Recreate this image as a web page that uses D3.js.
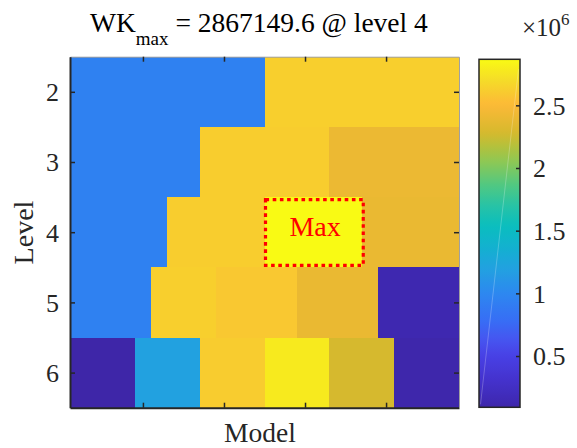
<!DOCTYPE html>
<html>
<head>
<meta charset="utf-8">
<script src="https://cdn.jsdelivr.net/npm/d3@7"></script>
<style>
  html, body { margin: 0; padding: 0; background: #fff; }
  svg { display: block; font-family: "Liberation Serif", "Times New Roman", serif; }
</style>
</head>
<body>
<svg id="chart" width="577" height="448"></svg>
<script>
// Model indices along the x axis and clustering levels along y
const modelIds = [1, 2, 3, 4, 5, 6, 7, 8, 9, 10, 11, 12, 13, 14, 15, 16, 17, 18, 19, 20, 21, 22, 23, 24];
const levels = [2, 3, 4, 5, 6];

// WK value for every model at each level
const wkLevel2 = [950000, 950000, 950000, 950000, 950000, 950000, 950000, 950000, 950000, 950000, 950000, 950000,
                  2630000, 2630000, 2630000, 2630000, 2630000, 2630000, 2630000, 2630000, 2630000, 2630000, 2630000, 2630000];
const wkLevel3 = [950000, 950000, 950000, 950000, 950000, 950000, 950000, 950000,
                  2620000, 2620000, 2620000, 2620000, 2620000, 2620000, 2620000, 2620000,
                  2410000, 2410000, 2410000, 2410000, 2410000, 2410000, 2410000, 2410000];
const wkLevel4 = [950000, 950000, 950000, 950000, 950000, 950000,
                  2620000, 2620000, 2620000, 2620000, 2620000, 2620000,
                  2867149.6, 2867149.6, 2867149.6, 2867149.6, 2867149.6, 2867149.6,
                  2400000, 2400000, 2400000, 2400000, 2400000, 2400000];
const wkLevel5 = [950000, 950000, 950000, 950000, 950000,
                  2630000, 2630000, 2630000, 2630000,
                  2590000, 2590000, 2590000, 2590000, 2590000,
                  2400000, 2400000, 2400000, 2400000, 2400000,
                  120000, 120000, 120000, 120000, 120000];
const wkLevel6 = [91000, 91000, 91000, 91000,
                  1200000, 1200000, 1200000, 1200000,
                  2610000, 2610000, 2610000, 2610000,
                  2780000, 2780000, 2780000, 2780000,
                  2280000, 2280000, 2280000, 2280000,
                  100000, 100000, 100000, 100000];
const wkRows = [wkLevel2, wkLevel3, wkLevel4, wkLevel5, wkLevel6];

// Axis ticks
const modelTicks = [5, 10, 15, 20];
const levelTicks = [2, 3, 4, 5, 6];
const cbTicks = [500000, 1000000, 1500000, 2000000, 2500000];
const cbTickLabels = ["0.5", "1", "1.5", "2", "2.5"];

// Parula-like colour ramp
const rampPos = [0, 0.007, 0.078, 0.15, 0.194, 0.251, 0.326, 0.394, 0.451, 0.522, 0.58, 0.638, 0.704, 0.75, 0.79, 0.87, 0.94, 1];
const rampCol = ["#3e26a8", "#3e28af", "#4432cd", "#4841e6", "#4655f0", "#376ef5", "#2d87f0", "#23a0e1", "#14afd2",
                 "#0abebe", "#28c3a5", "#50c882", "#8cc855", "#b4c13c", "#d7b92d", "#fcb937", "#f5dc28", "#f9fa14"];
const ramp = d3.scaleLinear().domain(rampPos).range(rampCol).interpolate(d3.interpolateRgb).clamp(true);

const svg = d3.select("#chart");
const plot = { left: 70, right: 459, top: 56.7, bottom: 407.7 };
const cb = { left: 479, right: 520, top: 59.3, bottom: 407.3 };
const ink = "#262626";
const serif = "Liberation Serif";

const x = d3.scaleLinear().domain([0.5, modelIds.length + 0.5]).range([plot.left, plot.right]);
const y = d3.scaleLinear().domain([1.5, 6.5]).range([plot.top, plot.bottom]);

const allValues = wkRows.flat();
const [vMin, vMax] = d3.extent(allValues);
const color = d3.scaleSequential(t => ramp(t)).domain([vMin, vMax]);

// Heat-map cells
const cells = [];
levels.forEach((lev, i) => {
  modelIds.forEach((m, j) => cells.push({ level: lev, model: m, value: wkRows[i][j] }));
});
svg.append("g").selectAll("rect").data(cells).join("rect")
  .attr("x", d => x(d.model - 0.5))
  .attr("y", d => y(d.level - 0.5))
  .attr("width", d => x(d.model + 0.5) - x(d.model - 0.5))
  .attr("height", d => y(d.level + 0.5) - y(d.level - 0.5))
  .attr("fill", d => color(d.value))
  .attr("shape-rendering", "crispEdges");

// Axes box: ticks point inward on all four sides
const tickLen = 5;
const gTop = svg.append("g").attr("transform", `translate(0,${plot.top})`)
  .call(d3.axisTop(x).tickValues(modelTicks).tickSizeInner(-tickLen).tickSizeOuter(0).tickFormat(""));
const gBottom = svg.append("g").attr("transform", `translate(0,${plot.bottom})`)
  .call(d3.axisBottom(x).tickValues(modelTicks).tickSizeInner(-tickLen).tickSizeOuter(0).tickFormat(""));
const gLeft = svg.append("g").attr("transform", `translate(${plot.left},0)`)
  .call(d3.axisLeft(y).tickValues(levelTicks).tickSizeInner(-tickLen).tickSizeOuter(0)
    .tickPadding(11).tickFormat(d3.format("d")));
const gRight = svg.append("g").attr("transform", `translate(${plot.right},0)`)
  .call(d3.axisRight(y).tickValues(levelTicks).tickSizeInner(-tickLen).tickSizeOuter(0).tickFormat(""));

[gTop, gRight].forEach(g => {
  g.select(".domain").attr("stroke", "#a0a0a0").attr("stroke-width", 1);
});
[gBottom, gLeft].forEach(g => {
  g.select(".domain").attr("stroke", ink).attr("stroke-width", 2);
});
[gTop, gBottom, gLeft, gRight].forEach(g => {
  g.attr("font-family", serif);
  g.selectAll(".tick line").attr("stroke", ink).attr("stroke-width", 1.5);
});
gLeft.selectAll(".tick text")
  .attr("font-family", serif).attr("font-size", 26).attr("fill", ink).attr("dy", "0.34em");

// Axis labels
svg.append("text")
  .attr("x", 260).attr("y", 442)
  .attr("text-anchor", "middle").attr("font-size", 27.5).attr("fill", ink)
  .text("Model");
svg.append("text")
  .attr("transform", "translate(33,232.5) rotate(-90)")
  .attr("text-anchor", "middle").attr("font-size", 28).attr("fill", ink)
  .text("Level");

// Title built from the maximum value and the level it sits on
const maxRow = wkRows.findIndex(r => r.includes(vMax));
const maxLevel = levels[maxRow];
const title = svg.append("text").attr("x", 90).attr("y", 31.5).attr("font-size", 27.5).attr("fill", "#000");
title.append("tspan").text("WK");
title.append("tspan").attr("dy", 13).attr("font-size", 19).text("max");
title.append("tspan").attr("dy", -13).text(` = ${d3.format(".1f")(vMax)} @ level ${maxLevel}`);

// Highlight the maximum cell
const maxModels = modelIds.filter((m, j) => wkRows[maxRow][j] === vMax);
const mx0 = x(d3.min(maxModels) - 0.5), mx1 = x(d3.max(maxModels) + 0.5);
const my0 = y(maxLevel - 0.5), my1 = y(maxLevel + 0.5);
svg.append("rect")
  .attr("x", mx0 + 1).attr("y", my0 + 2.5)
  .attr("width", (mx1 + 1.5) - (mx0 + 1)).attr("height", (my1 - 2) - (my0 + 2.5))
  .attr("fill", "none").attr("stroke", "#ff0000").attr("stroke-width", 3.2)
  .attr("stroke-dasharray", "3.6 3.6");
svg.append("text")
  .attr("x", (mx0 + mx1) / 2 + 2).attr("y", (my0 + my1) / 2 + 4)
  .attr("text-anchor", "middle").attr("font-size", 28).attr("fill", "#ff0000")
  .text("Max");

// Colour bar
const cbScale = d3.scaleLinear().domain([vMin, vMax]).range([cb.bottom, cb.top]);
const grad = svg.append("defs").append("linearGradient")
  .attr("id", "cbGrad").attr("x1", 0).attr("y1", 1).attr("x2", 0).attr("y2", 0);
d3.range(0, 1.0001, 1 / 64).forEach(t => {
  grad.append("stop").attr("offset", t).attr("stop-color", ramp(t));
});
svg.append("rect")
  .attr("x", cb.left).attr("y", cb.top)
  .attr("width", cb.right - cb.left).attr("height", cb.bottom - cb.top)
  .attr("fill", "url(#cbGrad)");
svg.append("line")
  .attr("x1", cb.left + 1.5).attr("y1", cb.bottom - 3).attr("x2", cb.right - 1.5).attr("y2", cb.top + 10)
  .attr("stroke", "#fff").attr("stroke-opacity", 0.3).attr("stroke-width", 0.8);
svg.append("rect")
  .attr("x", cb.left).attr("y", cb.top)
  .attr("width", cb.right - cb.left).attr("height", cb.bottom - cb.top)
  .attr("fill", "none").attr("stroke", ink).attr("stroke-width", 1.5);

const gCb = svg.append("g").attr("transform", `translate(${cb.right},0)`)
  .call(d3.axisRight(cbScale).tickValues(cbTicks).tickSizeInner(-4).tickSizeOuter(0)
    .tickPadding(13).tickFormat((d, i) => cbTickLabels[i]));
gCb.select(".domain").remove();
gCb.attr("font-family", serif);
gCb.selectAll(".tick line").attr("stroke", ink).attr("stroke-width", 1.5);
gCb.selectAll(".tick text")
  .attr("font-family", serif).attr("font-size", 26).attr("fill", ink).attr("dy", "0.34em");

// Colour bar exponent
const expo = svg.append("text").attr("x", 522).attr("y", 36).attr("font-size", 25).attr("fill", ink);
expo.append("tspan").text("\u00d710");
expo.append("tspan").attr("dy", -11).attr("font-size", 17).text("6");
</script>
</body>
</html>
